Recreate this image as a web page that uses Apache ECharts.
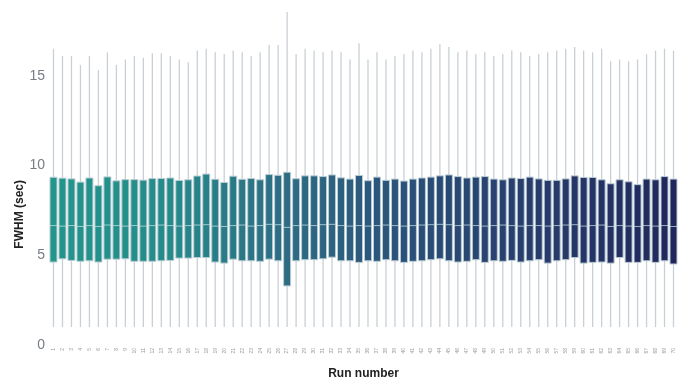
<!DOCTYPE html>
<html>
<head>
<meta charset="utf-8">
<script src="https://cdn.jsdelivr.net/npm/echarts@6/dist/echarts.min.js"></script>
<style>html,body{margin:0;padding:0;background:#fff;}#chart{width:692px;height:385px;}</style>
</head>
<body>
<div id="chart"></div>
<script>
const runs = Array.from({length: 70}, (_, i) => String(i + 1));
const whiskerLow = [1.0,1.0,1.0,1.0,1.0,1.0,1.0,1.0,1.0,1.0,1.0,1.0,1.0,1.0,1.0,1.0,1.0,1.0,1.0,1.0,1.0,1.0,1.0,1.0,1.0,1.0,1.0,1.0,1.0,1.0,1.0,1.0,1.0,1.0,1.0,1.0,1.0,1.0,1.0,1.0,1.0,1.0,1.0,1.0,1.0,1.0,1.0,1.0,1.0,1.0,1.0,1.0,1.0,1.0,1.0,1.0,1.0,1.0,1.0,1.0,1.0,1.0,1.0,1.0,1.0,1.0,1.0,1.0,1.0,1.0];
const q1 = [4.62,4.80,4.71,4.66,4.69,4.62,4.78,4.78,4.80,4.66,4.66,4.66,4.69,4.71,4.84,4.84,4.87,4.87,4.62,4.56,4.78,4.69,4.69,4.66,4.78,4.69,3.29,4.69,4.75,4.75,4.80,4.89,4.69,4.69,4.60,4.69,4.66,4.75,4.69,4.60,4.66,4.69,4.75,4.80,4.69,4.62,4.66,4.75,4.60,4.69,4.66,4.71,4.62,4.69,4.75,4.56,4.69,4.75,4.87,4.56,4.60,4.62,4.56,4.87,4.60,4.60,4.69,4.60,4.69,4.51];
const median = [6.65,6.62,6.65,6.60,6.65,6.60,6.68,6.65,6.62,6.65,6.62,6.65,6.68,6.65,6.62,6.65,6.68,6.70,6.62,6.60,6.65,6.68,6.62,6.65,6.72,6.70,6.55,6.65,6.68,6.65,6.70,6.72,6.65,6.62,6.65,6.62,6.65,6.68,6.65,6.62,6.65,6.68,6.70,6.72,6.70,6.65,6.68,6.65,6.62,6.65,6.68,6.65,6.62,6.65,6.65,6.62,6.65,6.68,6.70,6.62,6.65,6.68,6.60,6.65,6.62,6.60,6.65,6.62,6.65,6.60];
const q3 = [9.34,9.29,9.25,9.07,9.30,8.87,9.36,9.14,9.21,9.21,9.18,9.27,9.27,9.30,9.16,9.20,9.41,9.52,9.23,9.05,9.40,9.23,9.27,9.20,9.49,9.45,9.62,9.26,9.42,9.42,9.38,9.47,9.31,9.24,9.44,9.15,9.35,9.17,9.24,9.13,9.24,9.30,9.35,9.42,9.47,9.38,9.30,9.35,9.38,9.24,9.20,9.30,9.27,9.35,9.25,9.17,9.17,9.25,9.42,9.33,9.33,9.20,8.98,9.20,9.09,8.93,9.24,9.20,9.38,9.24];
const whiskerHigh = [16.5,16.1,16.1,15.6,16.1,15.3,16.3,15.6,15.9,16.1,16.0,16.25,16.25,16.1,15.9,15.75,16.4,16.5,16.3,16.2,16.4,16.3,16.1,16.3,16.7,16.7,18.55,16.2,16.5,16.4,16.3,16.4,16.3,15.9,16.8,15.9,16.3,15.9,16.1,16.2,16.4,16.3,16.5,16.75,16.6,16.3,16.4,16.2,16.3,16.1,16.2,16.4,16.3,16.1,16.2,16.3,16.4,16.5,16.6,16.4,16.3,16.5,15.8,15.9,15.8,15.9,16.2,16.4,16.5,16.4];
const yTicks = [0, 5, 10, 15];

const stops = [
  [0, [34,150,139]],
  [13, [36,138,138]],
  [26, [46,108,132]],
  [40, [42,79,121]],
  [55, [40,58,107]],
  [69, [33,39,92]]
];
function colorAt(i) {
  for (let s = 0; s < stops.length - 1; s++) {
    const [a, ca] = stops[s], [b, cb] = stops[s + 1];
    if (i >= a && i <= b) {
      const t = (i - a) / (b - a);
      const c = ca.map((v, k) => Math.round(v + (cb[k] - v) * t));
      return 'rgb(' + c.join(',') + ')';
    }
  }
  return 'rgb(33,39,92)';
}

const boxData = runs.map((r, i) => [i, whiskerLow[i], q1[i], median[i], q3[i], whiskerHigh[i]]);

function renderBox(params, api) {
  const i = api.value(0);
  const pLow = api.coord([i, api.value(1)]);
  const pQ1 = api.coord([i, api.value(2)]);
  const pMed = api.coord([i, api.value(3)]);
  const pQ3 = api.coord([i, api.value(4)]);
  const pHigh = api.coord([i, api.value(5)]);
  const bw = 7;
  const x = pQ1[0];
  const whisker = { stroke: '#c9d0d5', lineWidth: 1.3 };
  return {
    type: 'group',
    children: [
      { type: 'line', shape: { x1: x, y1: pLow[1], x2: x, y2: pQ1[1] }, style: whisker },
      { type: 'line', shape: { x1: x, y1: pQ3[1], x2: x, y2: pHigh[1] }, style: whisker },
      { type: 'rect', shape: { x: x - bw / 2, y: pQ3[1], width: bw, height: pQ1[1] - pQ3[1] },
        style: { fill: colorAt(i), stroke: '#b9ccd3', lineWidth: 1 } },
      { type: 'line', shape: { x1: x - bw / 2, y1: pMed[1], x2: x + bw / 2, y2: pMed[1] },
        style: { stroke: 'rgba(200,225,230,0.75)', lineWidth: 1 } }
    ]
  };
}

const chart = echarts.init(document.getElementById('chart'), null, {renderer: 'canvas'});
chart.setOption({
  animation: false,
  backgroundColor: '#ffffff',
  grid: { left: 49, right: 14, top: 11, bottom: 30 },
  xAxis: {
    type: 'category',
    data: runs,
    name: 'Run number',
    nameLocation: 'middle',
    nameGap: 23,
    nameTextStyle: { fontFamily: 'Liberation Sans', fontWeight: 'bold', fontSize: 12, color: '#222' },
    axisLine: { show: false },
    axisTick: { show: false },
    axisLabel: { interval: 0, rotate: 90, fontSize: 5, color: '#9a9a9a', margin: 3, fontFamily: 'Liberation Sans' },
    splitLine: { show: false }
  },
  yAxis: {
    type: 'value',
    min: 0,
    max: 18.6,
    interval: 5,
    axisLine: { show: false },
    axisTick: { show: false },
    splitLine: { show: false },
    axisLabel: {
      showMaxLabel: false,
      fontSize: 14,
      color: '#767d84',
      margin: 4,
      fontFamily: 'Liberation Sans',
      formatter: v => yTicks.indexOf(v) >= 0 ? String(v) : ''
    }
  },
  graphic: [{
    type: 'text',
    left: 14,
    top: 180,
    rotation: Math.PI / 2,
    style: { text: 'FWHM (sec)', fontFamily: 'Liberation Sans', fontWeight: 'bold', fontSize: 12, fill: '#222' }
  }],
  series: [{
    type: 'custom',
    renderItem: renderBox,
    data: boxData,
    encode: { x: 0, y: [1, 2, 3, 4, 5] }
  }]
});
</script>
</body>
</html>
